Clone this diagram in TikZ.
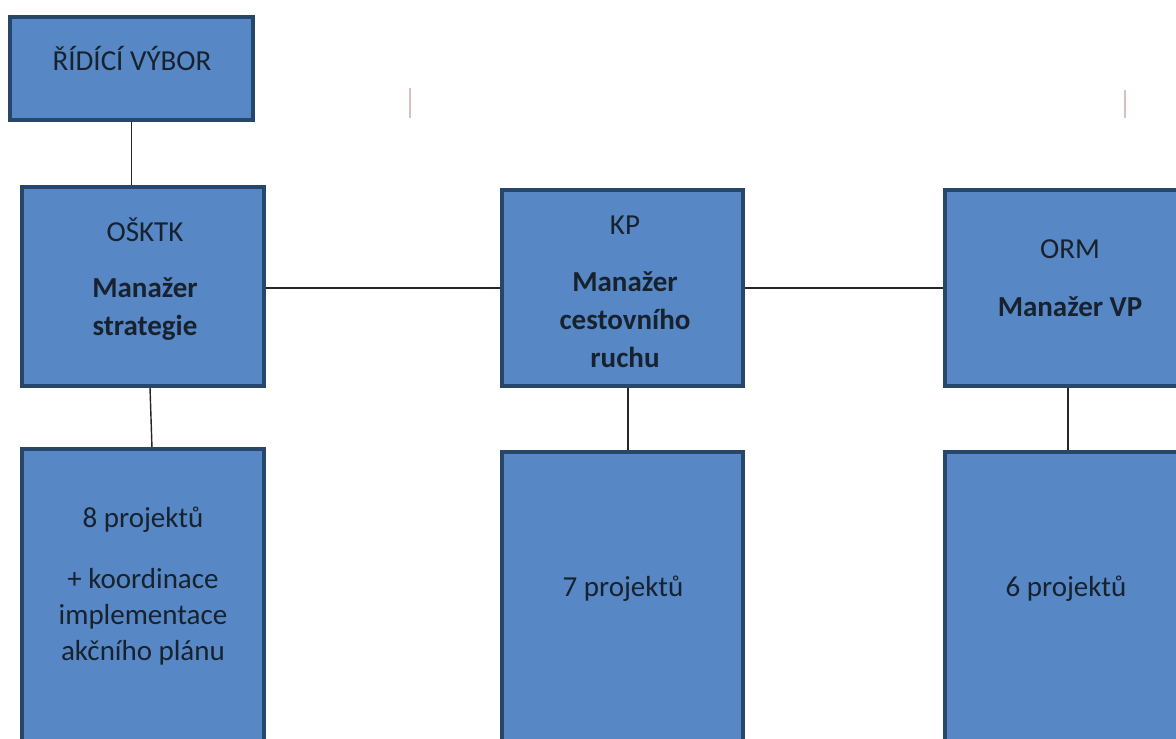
\documentclass[tikz,border=0pt]{standalone}
\usepackage{fontspec}
\setmainfont{Carlito}
\usepackage{xcolor}
\usepackage{tikz}
\usetikzlibrary{calc}

\definecolor{boxfill}{HTML}{5787C4}
\definecolor{boxline}{HTML}{264769}
\definecolor{boxtext}{HTML}{17222E}

\begin{document}
\begin{tikzpicture}[
    x=0.02cm, y=-0.02cm,
    box/.style={draw=boxline,line width=2.4pt,fill=boxfill,rectangle,inner sep=0pt},
    txt/.style={text=boxtext,align=center,inner sep=0pt,
        font=\fontsize{16.5}{21.5}\selectfont},
    ptxt/.style={txt,font=\fontsize{16.5}{20.5}\selectfont},
    link/.style={line width=0.8pt,black!85},
    scanmark/.style={line width=0.6pt,red!25!gray!40}
]

\useasboundingbox (0,0) rectangle (1176,739);
\clip (0,0) rectangle (1176,739);

% Boxes
\node[box,minimum width=4.86cm,minimum height=2.06cm] (rv) at (131.5,68.5) {};
\node[box,minimum width=4.84cm,minimum height=3.98cm] (osktk) at (143,286.5) {};
\node[box,minimum width=4.82cm,minimum height=3.92cm] (kp) at (622.5,288) {};
\node[box,minimum width=4.84cm,minimum height=3.92cm] (orm) at (1066,288) {};

\node[box,anchor=north,minimum width=4.84cm,minimum height=7cm] (proj1) at (143,447) {};
\node[box,anchor=north,minimum width=4.82cm,minimum height=7cm] (proj2) at (622.5,450) {};
\node[box,anchor=north,minimum width=4.84cm,minimum height=7cm] (proj3) at (1066,450) {};

% Texts
\node[txt] (rvtxt) at (132,59) {ŘÍDÍCÍ VÝBOR};
\node[txt] (osktktxt) at (145,279) {OŠKTK\\[10.6pt]\textbf{Manažer}\\\textbf{strategie}};
\node[txt] (kptxt) at (625,291.5) {KP\\[11pt]\textbf{Manažer}\\\textbf{cestovního}\\\textbf{ruchu}};
\node[txt] (ormtxt) at (1070,278) {ORM\\[11.5pt]\textbf{Manažer VP}};

\node[ptxt] (p1txt) at (143,586) {8 projektů\\[14pt]+ koordinace\\implementace\\akčního plánu};
\node[ptxt] (p2txt) at (623,589) {7 projektů};
\node[ptxt] (p3txt) at (1066,589) {6 projektů};

% Connectors
\draw[link] (rv.south) -- (rv.south |- osktk.north);
\draw[link] (kp.west -| osktk.east) -- (kp.west);
\draw[link] (kp.east) -- (orm.west);
\draw[link] ([xshift=4pt]osktk.south) -- ([xshift=5.1pt]proj1.north);
\draw[link] ([xshift=3.1pt]kp.south) -- ([xshift=3.1pt]proj2.north);
\draw[link] ([xshift=1.1pt]orm.south) -- ([xshift=1.1pt]proj3.north);

% scan marks
\draw[scanmark] (410,88) -- (410,118);
\draw[scanmark] (1125,90) -- (1125,118);

\end{tikzpicture}
\end{document}
